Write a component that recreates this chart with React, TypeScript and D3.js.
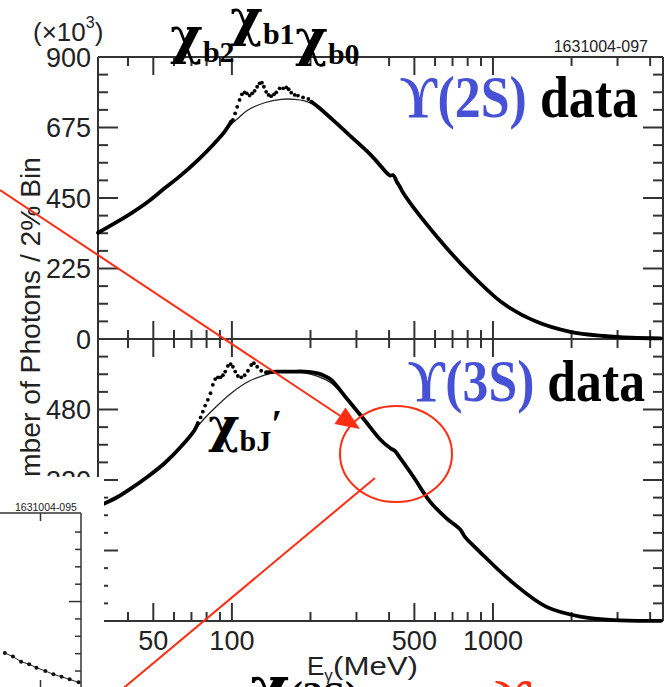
import React from "react";
import * as d3 from "d3";

// photon spectra: E in MeV, counts in units of 10^3 per 2% bin
const E_2S = [30.7, 35.5, 41.1, 47.7, 55.2, 63.9, 74.1, 85.8, 93.8, 99.4, 100.9, 102.9, 104.8, 107.0, 109.2, 111.8, 114.1, 116.9, 119.6, 122.2, 125.0, 127.7, 130.3, 132.6, 135.3, 138.2, 141.4, 144.9, 147.9, 152.4, 157.1, 161.6, 165.0, 168.8, 174.0, 179.0, 187.3, 196.3, 201.6, 213.5, 240, 286, 338, 362, 403, 415, 428, 440, 454, 609, 817, 1093, 1471, 1978, 2660, 3400, 4400];
const N_2S = [339, 369, 401, 438, 481, 523, 571, 625, 662, 694, 699, 720, 741, 763, 781, 787, 784, 777, 784, 792, 805, 816, 818, 805, 789, 779, 775, 781, 787, 800, 800, 803, 797, 786, 779, 777, 771, 766, 757, 741, 704, 646, 590, 563, 522, 523, 502, 486, 465, 327, 210, 114, 55, 23, 9.6, 4, 2];
const FIT_E_2S = [85.8, 93.8, 98, 105.4, 115.2, 133.4, 154.5, 173.9, 190, 207.4, 226.7, 240];
const FIT_N_2S = [625, 662, 680, 704, 731, 754, 765, 765, 760, 747, 725, 704];

const E_3S = [30.7, 32.6, 36.6, 41.1, 47.7, 55.2, 63.9, 71.9, 74.1, 75.9, 77.4, 79.0, 80.9, 82.8, 84.5, 86.3, 88.4, 90.5, 92.4, 94.3, 96.5, 98.9, 100.9, 103.0, 105.4, 108.6, 111.9, 115.2, 118.6, 121.4, 125.0, 129.5, 135.3, 150.1, 168.8, 190, 213.5, 226.7, 240.3, 278, 322, 370, 405, 421, 440, 495, 574, 664, 748, 781, 890, 1196, 1604, 2160, 2900, 4400];
const N_3S = [260, 267, 282, 301, 328, 358, 396, 433, 449, 462, 475, 489, 502, 517, 536, 549, 553, 553, 558, 566, 579, 583, 577, 566, 556, 553, 558, 568, 581, 585, 577, 568, 564, 566, 566, 566, 562, 556, 547, 502, 456, 412, 392, 386, 371, 328, 271, 233, 208, 191, 157, 86, 32, 10, 2, 0.5];
const FIT_E_3S = [63.9, 71.9, 78.6, 85.8, 99.4, 115.2, 133.4, 145.8, 160, 190, 213.5, 240, 278];
const FIT_N_3S = [396, 433, 460, 483, 517, 543, 558, 564, 566, 563, 555, 540, 500];

// energy windows of the chi_b lines, drawn as single points
const DOTS_2S = [99, 202];
const DOTS_3S = [73, 136];

const X_LABELS = [50, 100, 500, 1000];
const X_MINOR = [40, 60, 70, 80, 90, 200, 300, 400, 600, 700, 800, 900, 2000, 3000, 4000];
const Y_LABELS_2S = [0, 225, 450, 675, 900];
const Y_LABELS_3S = [0, 160, 320, 480];

// small inset plot peeking in at the lower left
const INSET_X = [1.06, 1.16, 1.26, 1.36, 1.45, 1.56, 1.66, 1.76, 1.86, 1.97];
const INSET_Y = [2.04, 1.83, 1.54, 1.39, 1.19, 1.0, 0.81, 0.67, 0.52, 0.35];

const BLUE = "#4651d6";
const RED = "#ff2d12";
const AX = "#333";
const SANS = "'Liberation Sans', Arial, Helvetica, sans-serif";
const SERIF = "'Liberation Serif', 'Times New Roman', 'DejaVu Serif', serif";
const CHI = "'DejaVu Serif', serif";

const x = d3.scaleLog().domain([30.7, 4480]).range([98, 663]);
const yTop = d3.scaleLinear().domain([0, 900]).range([339, 57]);
const yBot = d3.scaleLinear().domain([0, 640]).range([621, 339]);
const insetX = d3.scaleLinear().domain([1, 2]).range([0, 81]);
const insetY = d3.scaleLinear().domain([0, 10]).range([688.4, 514.7]);

const MAJ = 18, MIN = 9;

function Spectrum({ E, N, y, dots }: any) {
  const inDots = (e: number) => e >= dots[0] && e <= dots[1];
  const first = E.findIndex(inDots);
  let last = first;
  E.forEach((e: number, i: number) => { if (inDots(e)) last = i; });
  const line = d3.line<number>().x(i => x(E[i])).y(i => y(N[i])).curve(d3.curveCatmullRom);
  const seg1 = d3.range(0, first + 1);
  const seg2 = d3.range(last, E.length);
  const pts = d3.range(first, last + 1);
  return (
    <g>
      <path d={line(seg1) || ""} fill="none" stroke="#000" strokeWidth={3.8} strokeLinecap="round" />
      <path d={line(seg2) || ""} fill="none" stroke="#000" strokeWidth={3.8} strokeLinecap="round" />
      {pts.map(i => <circle key={i} cx={x(E[i])} cy={y(N[i])} r={1.9} fill="#000" />)}
    </g>
  );
}

function Fit({ E, N, y }: any) {
  const line = d3.line<number>().x(i => x(E[i])).y(i => y(N[i])).curve(d3.curveCatmullRom);
  return <path d={line(d3.range(E.length)) || ""} fill="none" stroke="#222" strokeWidth={1.3} />;
}

function Panel({ y, minorStep, majorStep }: any) {
  const [lo, hi] = y.domain();
  const [yb, yt] = y.range();
  const yMinor = d3.range(lo, hi + 0.01, minorStep);
  const isMaj = (v: number) => Math.abs(v / majorStep - Math.round(v / majorStep)) < 1e-6;
  const xt = [...X_LABELS.map(v => [v, MAJ]), ...X_MINOR.map(v => [v, MIN])];
  return (
    <g stroke={AX} strokeWidth={2}>
      <line x1={98} x2={663} y1={yt} y2={yt} />
      <line x1={98} x2={663} y1={yb} y2={yb} />
      <line x1={98} x2={98} y1={yt} y2={yb} />
      <line x1={663} x2={663} y1={yt} y2={yb} />
      {xt.map(([v, l]) => (
        <g key={"x" + v}>
          <line x1={x(v)} x2={x(v)} y1={yt} y2={yt + l} />
          <line x1={x(v)} x2={x(v)} y1={yb} y2={yb - l} />
        </g>
      ))}
      {yMinor.map(v => {
        const l = isMaj(v) ? MAJ + 2 : MIN + 1;
        return (
          <g key={"y" + v}>
            <line x1={98} x2={98 + l} y1={y(v)} y2={y(v)} />
            <line x1={663} x2={663 - l} y1={y(v)} y2={y(v)} />
          </g>
        );
      })}
    </g>
  );
}

function ChiLabel({ x0, y0, size, sub, prime }: any) {
  return (
    <text x={x0} y={y0} fontFamily={CHI} fontWeight="bold" fontSize={size} fill="#000">
      χ<tspan fontFamily={SERIF} fontSize={30} dy={9}>{sub}</tspan>
      {prime && <tspan fontFamily={SERIF} fontSize={40} dy={-14}>′</tspan>}
    </text>
  );
}

export default function App() {
  const tickFont = { fontFamily: SANS, fontSize: 27, fill: "#222" };
  const insetLine = d3.line<number>().x(i => insetX(INSET_X[i])).y(i => insetY(INSET_Y[i]));

  // red annotation arrow
  const a0 = [0, 190], a1 = [360, 429];
  const ang = Math.atan2(a1[1] - a0[1], a1[0] - a0[0]);
  const hl = 24, hw = 10;
  const bx = a1[0] - hl * Math.cos(ang), by = a1[1] - hl * Math.sin(ang);
  const head = [
    [a1[0], a1[1]],
    [bx + hw * Math.sin(ang), by - hw * Math.cos(ang)],
    [bx - hw * Math.sin(ang), by + hw * Math.cos(ang)],
  ].map(p => p.join(",")).join(" ");

  return (
    <div style={{ position: "absolute", left: 0, top: 0 }}>
      <svg width={666} height={687} viewBox="0 0 666 687" style={{ display: "block", background: "#fff" }}>
        <rect width={666} height={687} fill="#fff" />

        <Panel y={yTop} minorStep={56.25} majorStep={225} />
        <Panel y={yBot} minorStep={40} majorStep={160} />

        <Fit E={FIT_E_2S} N={FIT_N_2S} y={yTop} />
        <Spectrum E={E_2S} N={N_2S} y={yTop} dots={DOTS_2S} />
        <Fit E={FIT_E_3S} N={FIT_N_3S} y={yBot} />
        <Spectrum E={E_3S} N={N_3S} y={yBot} dots={DOTS_3S} />

        {/* tick labels */}
        {Y_LABELS_2S.map(v => (
          <text key={"l2" + v} x={91} y={yTop(v)} dy="0.36em" textAnchor="end" {...tickFont}>{v}</text>
        ))}
        {Y_LABELS_3S.map(v => (
          <text key={"l3" + v} x={91} y={yBot(v)} dy="0.36em" textAnchor="end" {...tickFont}>{v}</text>
        ))}
        {X_LABELS.map(v => (
          <text key={"xl" + v} x={x(v)} y={650} textAnchor="middle" {...tickFont}>{v}</text>
        ))}

        <text x={33} y={41} fontFamily={SANS} fontSize={26} fill="#222">
          (×10<tspan fontSize={16} dy={-13}>3</tspan><tspan dy={13}>)</tspan>
        </text>
        <text x={648} y={52} textAnchor="end" fontFamily={SANS} fontSize={16} fill="#222">1631004-097</text>

        <text transform="translate(40,157) rotate(-90)" textAnchor="end" fontFamily={SANS} fontSize={28}
          fill="#222" textLength={356} lengthAdjust="spacingAndGlyphs">
          Number of Photons / 2% Bin
        </text>

        <text x={307} y={675} fontFamily={SANS} fontSize={26} fill="#222">
          E<tspan fontSize={17} dy={6}>γ</tspan><tspan x={333} dy={-6} textLength={85} lengthAdjust="spacingAndGlyphs">(MeV)</tspan>
        </text>

        {/* panel titles */}
        <text x={400} y={117} fontFamily={SERIF} fontWeight="bold" fontSize={60} textLength={238} lengthAdjust="spacingAndGlyphs">
          <tspan fill={BLUE}>ϒ(2S)</tspan><tspan fill="#000"> data</tspan>
        </text>
        <text x={408} y={401} fontFamily={SERIF} fontWeight="bold" fontSize={60} textLength={237} lengthAdjust="spacingAndGlyphs">
          <tspan fill={BLUE}>ϒ(3S)</tspan><tspan fill="#000"> data</tspan>
        </text>

        {/* chi_b line labels */}
        <ChiLabel x0={170} y0={53} size={50} sub="b2" />
        <ChiLabel x0={230} y0={35} size={50} sub="b1" />
        <ChiLabel x0={295} y0={55} size={50} sub="b0" />
        <ChiLabel x0={208} y0={442} size={48} sub="bJ" prime />

        {/* inset */}
        <g>
          <rect x={0} y={477} width={104} height={210} fill="#fff" />
          <text x={15} y={511} fontFamily={SANS} fontSize={10.5} fill="#222">1631004-095</text>
          <g stroke={AX} strokeWidth={1.5}>
            <line x1={0} x2={81} y1={513} y2={513} />
            <line x1={81} x2={81} y1={513} y2={687} />
            <line x1={insetX(1.5)} x2={insetX(1.5)} y1={513} y2={521} />
            <line x1={insetX(1.5)} x2={insetX(1.5)} y1={687} y2={680} />
            {d3.range(1, 10).map(v => (
              <line key={v} x1={81} x2={v === 5 ? 69 : 75} y1={insetY(v)} y2={insetY(v)} />
            ))}
          </g>
          <path d={insetLine(d3.range(INSET_X.length)) || ""} fill="none" stroke="#222" strokeWidth={1} />
          {INSET_X.map((v, i) => <circle key={i} cx={insetX(v)} cy={insetY(INSET_Y[i])} r={2} fill="#111" />)}
        </g>

        {/* cut-off slide text at the bottom */}
        <text x={250} y={709} fontWeight="bold" fill="#000">
          <tspan fontFamily={CHI} fontSize={60}>χ</tspan><tspan fontFamily={SERIF} fontSize={40}>(3S)</tspan>
        </text>
        <text x={495} y={714} fontFamily={SERIF} fontWeight="bold" fontSize={50} fill={RED}>ϒ</text>

        {/* red annotations */}
        <g stroke={RED} strokeWidth={2} fill="none">
          <line x1={a0[0]} y1={a0[1]} x2={bx} y2={by} />
          <ellipse cx={396} cy={454} rx={56} ry={48} />
          <line x1={375} y1={478} x2={120} y2={691} />
        </g>
        <polygon points={head} fill={RED} />
      </svg>
    </div>
  );
}
